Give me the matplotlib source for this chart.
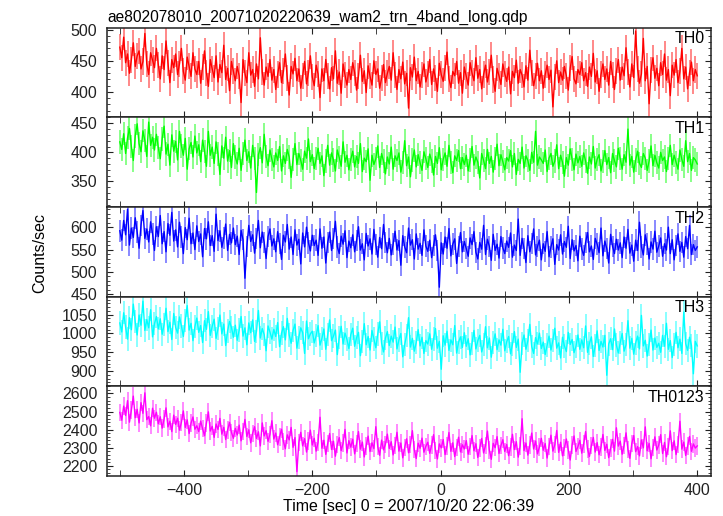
import numpy as np
import matplotlib
matplotlib.use("Agg")
import matplotlib.pyplot as plt
from matplotlib.ticker import MultipleLocator

plt.rcParams['font.family'] = ['Liberation Sans', 'DejaVu Sans']

# light curves, 3 s samples from -500 s to +400 s
th0 = [472, 455, 488, 447, 461, 430, 452, 479, 441, 458, 466, 437, 449, 494, 445, 428, 463, 451, 439, 470,
       444, 421, 458, 436, 482, 447, 415, 452, 439, 461, 428, 445, 470, 433, 419, 456, 441, 425, 463, 437,
       428, 449, 414, 440, 466, 431, 409, 452, 437, 423, 458, 416, 444, 431, 475, 420, 438, 402, 449, 433,
       418, 441, 426, 383, 452, 430, 415, 463, 427, 436, 409, 445, 421, 487, 432, 411, 440, 425, 452, 419,
       436, 404, 428, 447, 415, 433, 461, 422, 395, 441, 429, 454, 418, 437, 406, 426, 449, 413, 431, 458,
       424, 410, 443, 429, 391, 437, 418, 452, 426, 405, 439, 421, 466, 414, 432, 398, 445, 427, 411, 436,
       420, 447, 431, 403, 426, 459, 417, 434, 399, 442, 425, 411, 450, 428, 437, 406, 422, 444, 415, 430,
       441, 419, 463, 427, 404, 436, 421, 448, 413, 430, 374, 439, 424, 456, 418, 433, 408, 427, 445, 416,
       429, 452, 412, 437, 423, 401, 446, 428, 417, 439, 464, 421, 407, 433, 426, 449, 414, 431, 398, 440,
       425, 411, 447, 430, 418, 455, 422, 436, 405, 428, 443, 416, 432, 459, 420, 401, 438, 426, 412, 445,
       429, 417, 440, 397, 433, 423, 451, 414, 436, 427, 408, 442, 419, 467, 431, 410, 425, 446, 418, 434,
       406, 428, 443, 420, 435, 376, 424, 450, 415, 432, 419, 441, 426, 403, 438, 457, 421, 413, 436, 428,
       447, 418, 431, 409, 440, 425, 462, 416, 434, 401, 428, 445, 420, 437, 411, 449, 427, 404, 433, 452,
       419, 440, 426, 471, 432, 408, 445, 423, 498, 437, 414, 429, 486, 418, 441, 381, 435, 455, 422, 438,
       410, 447, 428, 461, 419, 436, 394, 443, 427, 452, 415, 433, 470, 421, 440, 405, 431, 448, 418, 436,
       426]
th1 = [418, 405, 432, 398, 425, 441, 410, 386, 428, 449, 415, 401, 437, 420, 393, 452, 412, 426, 404, 431,
       408, 389, 423, 445, 397, 414, 378, 430, 402, 419, 387, 436, 411, 395, 424, 371, 406, 417, 392, 428,
       399, 413, 384, 421, 402, 376, 436, 395, 409, 381, 418, 397, 362, 411, 390, 426, 385, 403, 374, 415,
       392, 380, 407, 369, 398, 421, 386, 401, 373, 412, 389, 331, 396, 408, 382, 431, 393, 377, 404, 388,
       375, 399, 386, 410, 368, 394, 381, 405, 392, 357, 388, 415, 379, 398, 386, 371, 402, 390, 423, 384,
       396, 372, 389, 407, 381, 394, 360, 385, 412, 378, 399, 387, 368, 404, 391, 376, 418, 383, 395, 370,
       388, 402, 375, 393, 381, 415, 367, 390, 384, 406, 352, 395, 379, 389, 411, 374, 398, 385, 363, 392,
       380, 409, 371, 394, 386, 399, 366, 383, 420, 377, 392, 358, 387, 404, 375, 396, 382, 369, 401, 389,
       374, 397, 385, 361, 393, 381, 408, 370, 388, 399, 376, 412, 383, 365, 394, 386, 403, 372, 391, 379,
       395, 368, 387, 410, 378, 392, 383, 356, 398, 386, 372, 405, 381, 393, 366, 389, 414, 377, 396, 384,
       370, 391, 385, 403, 375, 398, 362, 388, 381, 409, 373, 394, 386, 369, 400, 383, 436, 378, 392, 387,
       381, 404, 367, 390, 398, 376, 385, 413, 372, 395, 383, 359, 391, 378, 406, 388, 370, 397, 382, 393,
       376, 399, 385, 364, 392, 380, 410, 373, 388, 396, 368, 384, 403, 379, 391, 365, 398, 386, 375, 407,
       389, 371, 396, 383, 440, 378, 393, 366, 387, 402, 381, 374, 398, 390, 369, 385, 411, 377, 395, 382,
       373, 400, 386, 392, 367, 389, 412, 379, 395, 383, 371, 404, 388, 376, 420, 384, 398, 369, 391, 387,
       380]
th2 = [592, 571, 615, 583, 640, 560, 598, 577, 621, 589, 553, 604, 637, 575, 596, 567, 612, 585, 548, 601,
       579, 626, 563, 590, 545, 608, 582, 633, 569, 594, 556, 611, 578, 541, 599, 572, 620, 563, 587, 550,
       603, 568, 585, 534, 597, 574, 612, 559, 581, 546, 629, 570, 592, 555, 576, 607, 548, 584, 565, 598,
       561, 580, 539, 593, 572, 486, 557, 604, 568, 583, 542, 575, 615, 554, 589, 566, 530, 579, 596, 558,
       574, 545, 590, 563, 528, 582, 567, 606, 551, 578, 539, 594, 560, 573, 518, 587, 556, 600, 565, 547,
       582, 559, 571, 537, 596, 553, 578, 520, 566, 589, 548, 575, 613, 556, 541, 580, 562, 592, 532, 569,
       554, 583, 545, 570, 601, 549, 563, 527, 586, 558, 574, 540, 595, 561, 533, 577, 552, 606, 566, 543,
       575, 538, 562, 591, 549, 570, 515, 581, 556, 543, 598, 560, 572, 529, 585, 551, 564, 537, 594, 558,
       546, 571, 532, 559, 583, 548, 466, 565, 540, 578, 553, 597, 536, 562, 574, 519, 557, 588, 545, 568,
       552, 535, 576, 561, 590, 544, 529, 566, 551, 604, 539, 573, 557, 526, 584, 548, 562, 531, 579, 554,
       541, 569, 555, 587, 533, 560, 548, 618, 537, 575, 552, 521, 581, 545, 564, 596, 538, 557, 571, 527,
       563, 546, 590, 534, 556, 574, 517, 561, 549, 583, 540, 568, 555, 602, 530, 572, 547, 559, 525, 580,
       551, 537, 566, 588, 545, 558, 528, 575, 562, 543, 598, 536, 569, 552, 520, 584, 557, 541, 573, 549,
       565, 532, 578, 553, 595, 542, 560, 524, 571, 548, 611, 556, 538, 583, 562, 529, 567, 551, 591, 544,
       558, 576, 535, 563, 549, 600, 541, 572, 527, 559, 585, 546, 566, 533, 579, 552, 604, 539, 561, 548,
       556]
th3 = [1028, 1004, 1055, 1017, 985, 1042, 1010, 1078, 1031, 996, 1049, 1022, 1086, 1008, 1037, 1015, 1063, 991, 1026, 1045,
       1012, 1039, 998, 1024, 1067, 1005, 1030, 984, 1053, 1016, 1001, 1044, 1020, 992, 1035, 1074, 1009, 1027, 981, 1018,
       1041, 1003, 1021, 976, 1034, 1011, 1058, 995, 1019, 1038, 987, 1013, 1049, 999, 1025, 968, 1007, 1032, 1016, 990,
       1022, 982, 1009, 1045, 993, 1015, 970, 1028, 1002, 1036, 979, 1006, 1061, 988, 1013, 997, 954, 1020, 1004, 985,
       1011, 992, 1029, 965, 1001, 1018, 983, 1040, 996, 974, 1008, 1025, 961, 990, 1015, 1002, 947, 1033, 986, 999,
       1006, 975, 994, 1021, 969, 987, 1012, 958, 998, 1036, 981, 993, 1009, 944, 990, 1019, 972, 1001, 984, 960,
       997, 1014, 966, 989, 1003, 941, 979, 1026, 970, 992, 956, 1008, 985, 962, 999, 1031, 974, 951, 988, 1005,
       968, 993, 977, 1017, 959, 983, 1000, 938, 971, 995, 1042, 964, 987, 953, 976, 1010, 967, 990, 947, 981,
       972, 999, 958, 985, 1013, 961, 979, 905, 994, 969, 1006, 955, 983, 970, 1021, 948, 977, 991, 963, 1002,
       966, 986, 943, 974, 1008, 959, 981, 995, 951, 970, 1018, 962, 988, 937, 976, 999, 957, 983, 969, 1011,
       954, 978, 992, 946, 971, 1005, 963, 985, 897, 974, 996, 958, 981, 1024, 965, 947, 989, 972, 1001, 960,
       977, 944, 969, 993, 956, 982, 1014, 961, 975, 935, 990, 967, 952, 1003, 971, 984, 949, 966, 996, 958,
       983, 962, 1020, 950, 974, 991, 939, 968, 1007, 955, 979, 964, 995, 889, 972, 986, 957, 1012, 969, 948,
       976, 1000, 953, 970, 1034, 961, 987, 945, 975, 993, 959, 1048, 967, 982, 940, 971, 1009, 956, 988, 963,
       974, 950, 995, 966, 1027, 958, 981, 936, 970, 1003, 962, 985, 947, 1057, 973, 955, 990, 968, 893, 979,
       967]
th0123 = [2495, 2452, 2530, 2478, 2560, 2441, 2508, 2585, 2466, 2512, 2437, 2549, 2490, 2603, 2455, 2472, 2421, 2518, 2463, 2496,
          2432, 2471, 2408, 2459, 2520, 2415, 2446, 2389, 2480, 2428, 2463, 2397, 2441, 2503, 2412, 2454, 2378, 2436, 2470, 2402,
          2421, 2389, 2447, 2405, 2366, 2436, 2498, 2392, 2418, 2357, 2431, 2401, 2462, 2375, 2413, 2345, 2398, 2440, 2384, 2352,
          2407, 2370, 2425, 2338, 2391, 2456, 2362, 2399, 2327, 2380, 2416, 2351, 2388, 2310, 2437, 2365, 2394, 2335, 2374, 2449,
          2348, 2381, 2316, 2360, 2402, 2334, 2294, 2371, 2343, 2412, 2302, 2356, 2168, 2329, 2385, 2310, 2350, 2276, 2338, 2397,
          2315, 2352, 2281, 2330, 2468, 2297, 2341, 2263, 2323, 2378, 2290, 2336, 2253, 2318, 2356, 2284, 2325, 2401, 2271, 2339,
          2303, 2347, 2266, 2322, 2389, 2292, 2331, 2249, 2310, 2364, 2279, 2327, 2295, 2416, 2306, 2258, 2342, 2288, 2319, 2375,
          2296, 2333, 2260, 2312, 2385, 2281, 2326, 2244, 2301, 2349, 2272, 2318, 2394, 2289, 2240, 2325, 2297, 2353, 2275, 2308,
          2330, 2269, 2314, 2372, 2286, 2238, 2321, 2299, 2345, 2262, 2310, 2384, 2280, 2327, 2251, 2302, 2358, 2277, 2316, 2293,
          2339, 2264, 2305, 2367, 2283, 2322, 2246, 2298, 2351, 2271, 2313, 2392, 2287, 2236, 2324, 2300, 2361, 2268, 2311, 2344,
          2279, 2318, 2256, 2303, 2374, 2290, 2333, 2248, 2309, 2460, 2284, 2326, 2259, 2315, 2381, 2293, 2337, 2266, 2304, 2352,
          2286, 2323, 2243, 2308, 2369, 2281, 2317, 2395, 2274, 2330, 2255, 2301, 2348, 2288, 2232, 2314, 2365, 2279, 2306, 2341,
          2270, 2321, 2389, 2292, 2252, 2311, 2357, 2276, 2328, 2261, 2304, 2373, 2285, 2319, 2245, 2298, 2346, 2281, 2410, 2309,
          2336, 2264, 2313, 2382, 2290, 2241, 2322, 2367, 2278, 2306, 2255, 2343, 2299, 2415, 2283, 2324, 2239, 2301, 2360, 2287,
          2315, 2372, 2268, 2329, 2250, 2305, 2393, 2284, 2338, 2262, 2317, 2446, 2292, 2331, 2257, 2309, 2362, 2280, 2321, 2298,
          2310]

names = ['TH0', 'TH1', 'TH2', 'TH3', 'TH0123']
series = [th0, th1, th2, th3, th0123]
errs = [21, 20, 24, 31, 48]
colors = ['#ff0000', '#00ff00', '#0000ff', '#00ffff', '#ff00ff']
ylims = [(359, 503), (306, 460), (445, 645), (860, 1098), (2145, 2640)]
ymajor = [50, 50, 50, 50, 100]
yminor = [10, 10, 10, 10, 20]

fig, axes = plt.subplots(5, 1, sharex=True, figsize=(7.23, 5.16), dpi=100)
fig.subplots_adjust(left=0.148, right=0.983, top=0.946, bottom=0.078, hspace=0)

for i, ax in enumerate(axes):
    v = np.array(series[i], dtype=float)
    t = -500 + 3 * np.arange(len(v))
    ax.errorbar(t, v, yerr=errs[i], fmt='none', ecolor=colors[i], alpha=0.5, elinewidth=1.3)
    ax.plot(t, v, color=colors[i], lw=1.0)
    ax.set_ylim(*ylims[i])
    ax.set_xlim(-520, 421)
    ax.yaxis.set_major_locator(MultipleLocator(ymajor[i]))
    ax.yaxis.set_minor_locator(MultipleLocator(yminor[i]))
    ax.xaxis.set_major_locator(MultipleLocator(200))
    ax.xaxis.set_minor_locator(MultipleLocator(100))
    ax.tick_params(which='both', direction='in', top=True, right=True, labelsize=11.5, colors='#222222')
    ax.tick_params(axis='y', which='major', length=4, pad=7)
    ax.tick_params(axis='y', which='minor', length=2)
    ax.tick_params(axis='x', which='both', length=4, pad=5)
    for s in ax.spines.values():
        s.set_linewidth(1.1)
        s.set_color('#222222')
    ax.text(0.99, 0.96, names[i], transform=ax.transAxes, ha='right', va='top', fontsize=11.5)

axes[0].set_title('ae802078010_20071020220639_wam2_trn_4band_long.qdp', loc='left', fontsize=11.2, pad=4)
fig.text(0.055, 0.51, 'Counts/sec', rotation=90, ha='center', va='center', fontsize=11.5)
axes[-1].set_xlabel('Time [sec] 0 = 2007/10/20 22:06:39', fontsize=11.5, labelpad=1)

fig.savefig('out.png', dpi=100)
